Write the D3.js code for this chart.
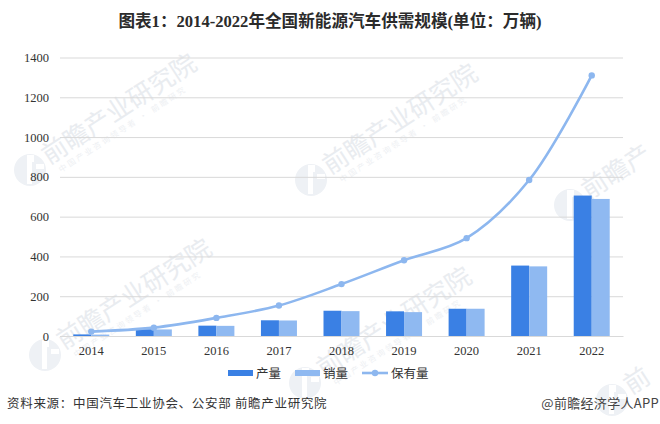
<!DOCTYPE html>
<html>
<head>
<meta charset="utf-8">
<script src="https://cdn.jsdelivr.net/npm/d3@7"></script>
<style>
  html, body { margin: 0; padding: 0; background: #fff; }
  svg { display: block; }
</style>
</head>
<body>
<svg id="chart" width="660" height="424"></svg>
<script>
// Data
const years = ['2014', '2015', '2016', '2017', '2018', '2019', '2020', '2021', '2022']
const output = [8, 34, 52, 79, 127, 124, 137, 354, 706]
const sales = [7, 33, 51, 78, 125, 120, 137, 350, 689]
const stock = [22, 42, 91, 153, 261, 381, 492, 784, 1310]
const yTicks = [0, 200, 400, 600, 800, 1000, 1200, 1400]
const seriesNames = ['产量', '销量', '保有量']

const titleText = '图表1：2014-2022年全国新能源汽车供需规模(单位：万辆)'
const sourceText = '资料来源：中国汽车工业协会、公安部 前瞻产业研究院'
const brandText = '@前瞻经济学人APP'
const markText = '前瞻产业研究院'
const markSubText = '中国产业咨询领导者 · 前瞻研究'

const darkBlue = '#3a80e4'
const lightBlue = '#8fb9f1'
const lineBlue = '#8db7ef'
const serif = '"Liberation Serif", "Noto Sans CJK SC", serif'
const cjk = '"Noto Sans CJK SC", sans-serif'

const svg = d3.select('#chart')
const margin = { left: 60, right: 623, top: 57.5, bottom: 336 }

// Scales
const x = d3.scaleBand().domain(years).range([margin.left, margin.right])
const xInner = d3.scaleBand().domain(['output', 'sales']).range([-18, 18])
const y = d3.scaleLinear().domain([0, 1400]).range([margin.bottom, margin.top])
const xMid = d => x(d) + x.bandwidth() / 2

// Watermarks go underneath everything, the ones at the right edge only show their first characters
const marks = [[30, 170, 7], [311, 180, 7], [570, 205, 3], [45, 355, 7], [305, 383, 7], [612, 400, 1]]
const markLayer = svg.append('g')
marks.forEach(([mx, my, chars]) => {
  markLayer.append('circle')
    .attr('cx', mx).attr('cy', my).attr('r', 16)
    .attr('fill', '#eef1f5')
  markLayer.append('path')
    .attr('transform', `translate(${mx},${my})`)
    .attr('d', 'M-3,-15 L4,-15 L4,-8 L2,-8 L2,14 L-3,14 Z M6,-6 L14,-6 L14,-1 L6,-1 Z')
    .attr('fill', '#fff')
  const g = markLayer.append('g')
    .attr('transform', `translate(${mx + 19},${my - 5}) rotate(-33)`)
  g.append('text')
    .attr('font-family', cjk)
    .attr('font-size', 25.5)
    .attr('fill', '#e9ecf0')
    .text(markText.slice(0, chars))
  if (chars < 7) return
  g.append('text')
    .attr('y', 13)
    .attr('x', 6)
    .attr('font-family', cjk)
    .attr('font-size', 8)
    .attr('letter-spacing', 2.2)
    .attr('fill', '#eef0f3')
    .text(markSubText)
})

// Title
svg.append('text')
  .attr('x', 330).attr('y', 26.5)
  .attr('text-anchor', 'middle')
  .attr('font-family', serif)
  .attr('font-weight', 'bold')
  .attr('font-size', 16.6)
  .attr('fill', '#2b2b2b')
  .text(titleText)

// Axes
const yAxis = d3.axisLeft(y)
  .tickValues(yTicks)
  .tickFormat(d3.format('d'))
  .tickSize(-(margin.right - margin.left))
  .tickPadding(11)
const xAxis = d3.axisBottom(x).tickSize(0).tickPadding(10)

const yG = svg.append('g')
  .attr('transform', `translate(${margin.left},0)`)
  .call(yAxis)
yG.select('.domain').remove()
yG.selectAll('line').attr('stroke', '#d9d9d9')
yG.selectAll('text')
  .attr('font-family', serif).attr('font-size', 12.5).attr('fill', '#333')

const xG = svg.append('g')
  .attr('transform', `translate(0,${margin.bottom})`)
  .call(xAxis)
xG.select('.domain').attr('stroke', '#d9d9d9')
xG.selectAll('text')
  .attr('font-family', serif).attr('font-size', 12.5).attr('fill', '#333')

// Bars
function drawBars(key, values, color) {
  svg.append('g').selectAll('rect')
    .data(values)
    .join('rect')
    .attr('x', (d, i) => xMid(years[i]) + xInner(key))
    .attr('y', d => y(d))
    .attr('width', xInner.bandwidth())
    .attr('height', d => y(0) - y(d))
    .attr('fill', color)
}
drawBars('output', output, darkBlue)
drawBars('sales', sales, lightBlue)

// Stock line
const line = d3.line()
  .x((d, i) => xMid(years[i]))
  .y(d => y(d))
  .curve(d3.curveCatmullRom.alpha(0.5))

svg.append('path')
  .datum(stock)
  .attr('d', line)
  .attr('fill', 'none')
  .attr('stroke', lineBlue)
  .attr('stroke-width', 2.6)

svg.append('g').selectAll('circle')
  .data(stock)
  .join('circle')
  .attr('cx', (d, i) => xMid(years[i]))
  .attr('cy', d => y(d))
  .attr('r', 3.2)
  .attr('fill', lineBlue)

// Legend
const legendY = 373
const legend = svg.append('g')
function legendText(tx, name) {
  legend.append('text')
    .attr('x', tx).attr('y', legendY + 4.5)
    .attr('font-family', cjk)
    .attr('font-size', 12.5)
    .attr('fill', '#333')
    .text(name)
}
legend.append('rect').attr('x', 228).attr('y', legendY - 3).attr('width', 25).attr('height', 6).attr('fill', darkBlue)
legendText(256, seriesNames[0])
legend.append('rect').attr('x', 295).attr('y', legendY - 3).attr('width', 25).attr('height', 6).attr('fill', lightBlue)
legendText(323, seriesNames[1])
legend.append('line').attr('x1', 362).attr('x2', 388).attr('y1', legendY).attr('y2', legendY)
  .attr('stroke', lineBlue).attr('stroke-width', 2.6)
legend.append('circle').attr('cx', 375).attr('cy', legendY).attr('r', 3.2).attr('fill', lineBlue)
legendText(391, seriesNames[2])

// Footer
svg.append('text')
  .attr('x', 7).attr('y', 408)
  .attr('font-family', cjk)
  .attr('font-size', 12.5)
  .attr('letter-spacing', 0.7)
  .attr('fill', '#333')
  .text(sourceText)

svg.append('text')
  .attr('x', 659).attr('y', 408)
  .attr('text-anchor', 'end')
  .attr('font-family', cjk)
  .attr('font-size', 13)
  .attr('letter-spacing', 0.3)
  .attr('fill', '#444')
  .text(brandText)
</script>
</body>
</html>
